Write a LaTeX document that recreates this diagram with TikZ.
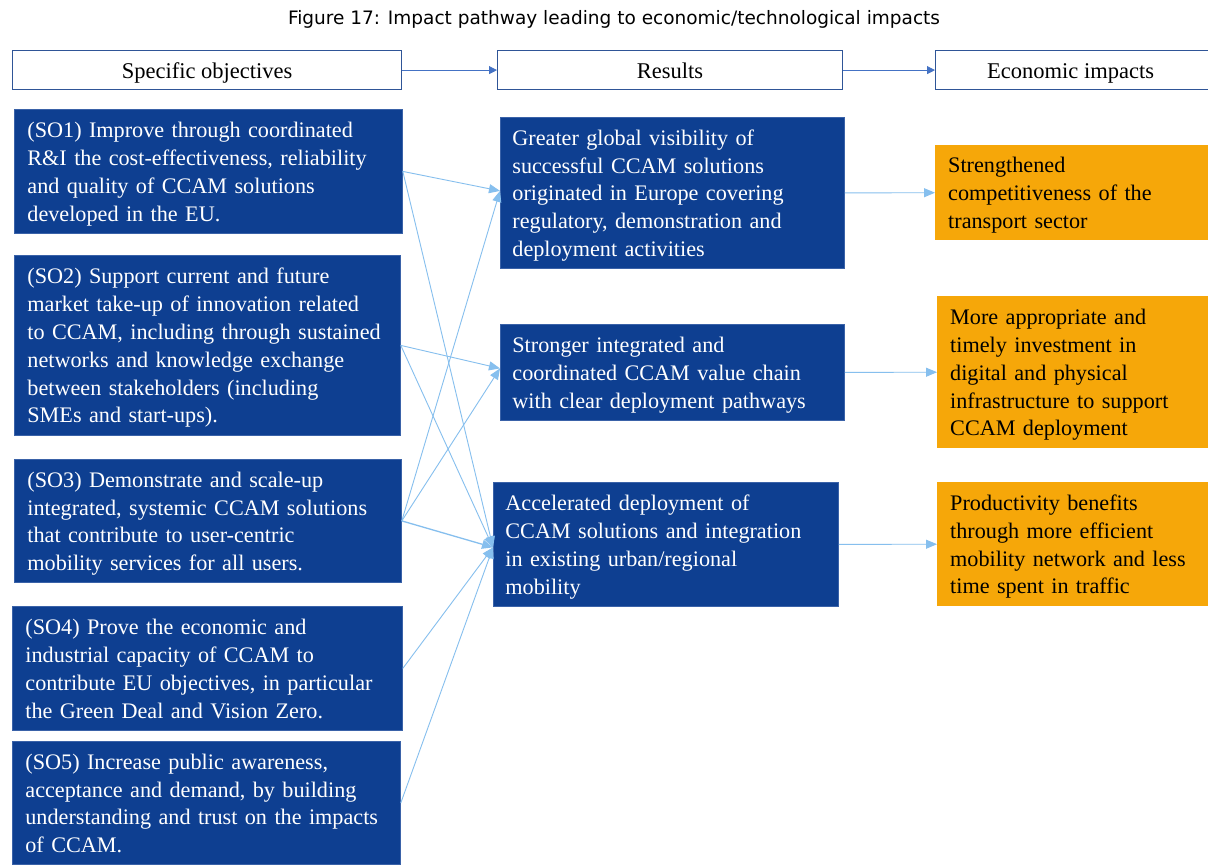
\documentclass[tikz,border=0pt]{standalone}
\usepackage{fontspec}
\setmainfont{Liberation Serif}
\newfontfamily\titlefont{DejaVu Sans}
\usetikzlibrary{arrows.meta}
\definecolor{boxblue}{HTML}{0E3F91}
\definecolor{boxedge}{HTML}{3A62A8}
\definecolor{impactorange}{HTML}{F6A709}
\definecolor{headedge}{HTML}{2F5597}
\definecolor{headarrow}{HTML}{4472C4}
\definecolor{linkblue}{HTML}{86BFEE}
\tikzset{
  bodytext/.style={font=\fontsize{22.2}{27.8}\selectfont,
    execute at begin node={\rule{0pt}{24pt}},
    execute at end node={\rule[-8pt]{0pt}{0pt}}},
  headbox/.style={draw=headedge, line width=1.2pt, fill=white, anchor=north west,
    minimum height=39pt, inner sep=0pt, text height=17pt, text depth=1pt,
    font=\fontsize{22.5}{26}\selectfont},
  objbox/.style={bodytext, fill=boxblue, draw=boxedge, line width=0.8pt, text=white,
    anchor=north west, inner xsep=13pt, inner ysep=0pt, align=left},
  resbox/.style={objbox},
  impbox/.style={bodytext, fill=impactorange, draw=none, text=black,
    anchor=north west, inner xsep=13pt, inner ysep=0pt, align=left},
  headlink/.style={draw=headarrow, line width=0.9pt, -{Triangle[length=8pt,width=8pt]}},
  link/.style={draw=linkblue, line width=0.9pt, -{Triangle[length=11pt,width=9pt]}}
}
\begin{document}
\begin{tikzpicture}[x=1pt,y=-1pt]
\useasboundingbox[fill=white] (0,0) rectangle (1208,865);

\node[font=\titlefont\fontsize{18.5}{21}\selectfont] (title) at (614,19)
  {Figure 17: Impact pathway leading to economic/technological impacts};

% column headers
\node[headbox, minimum width=389pt] (hso) at (12,50) {Specific objectives};
\node[headbox, minimum width=345pt] (hres) at (497,50) {Results};
\node[headbox, minimum width=276pt] (himp) at (935,50) {\hspace*{-3pt}Economic impacts\hspace*{3pt}};
\draw[headlink] (hso) -- (hres);
\draw[headlink] (hres) -- (himp);

% specific objectives
\node[objbox, text width=362pt, minimum height=124pt] (so1) at (14,109)
  {(SO1) Improve through coordinated\\
   R\&I the cost-effectiveness, reliability\\
   and quality of CCAM solutions\\
   developed in the EU.};
\node[objbox, text width=360pt, minimum height=180pt] (so2) at (14,255)
  {(SO2) Support current and future\\
   market take-up of innovation related\\
   to CCAM, including through sustained\\
   networks and knowledge exchange\\
   between stakeholders (including\\
   SMEs and start-ups).};
\node[objbox, text width=361pt, minimum height=123pt] (so3) at (14,459)
  {(SO3) Demonstrate and scale-up\\
   integrated, systemic CCAM solutions\\
   that contribute to user-centric\\
   mobility services for all users.};
\node[objbox, text width=364pt, minimum height=124pt] (so4) at (12,606)
  {(SO4) Prove the economic and\\
   industrial capacity of CCAM to\\
   contribute EU objectives, in particular\\
   the Green Deal and Vision Zero.};
\node[objbox, text width=362pt, minimum height=123pt] (so5) at (12,741)
  {(SO5) Increase public awareness,\\
   acceptance and demand, by building\\
   understanding and trust on the impacts\\
   of CCAM.};

% results
\node[resbox, text width=320pt, minimum height=151pt, inner xsep=12pt] (r1) at (500,117)
  {Greater global visibility of\\
   successful CCAM solutions\\
   originated in Europe covering\\
   regulatory, demonstration and\\
   deployment activities};
\node[resbox, text width=320pt, minimum height=96pt, inner xsep=12pt] (r2) at (500,324)
  {Stronger integrated and\\
   coordinated CCAM value chain\\
   with clear deployment pathways};
\node[resbox, text width=321pt, minimum height=124pt, inner xsep=12pt] (r3) at (493,482)
  {Accelerated deployment of\\
   CCAM solutions and integration\\
   in existing urban/regional\\
   mobility};

% economic impacts
\node[impbox, text width=250pt, minimum height=95pt] (i1) at (935,145)
  {Strengthened\\
   competitiveness of the\\
   transport sector};
\node[impbox, text width=248pt, minimum height=152pt] (i2) at (937,296)
  {More appropriate and\\
   timely investment in\\
   digital and physical\\
   infrastructure to support\\
   CCAM deployment};
\node[impbox, text width=248pt, minimum height=124pt] (i3) at (937,482)
  {Productivity benefits\\
   through more efficient\\
   mobility network and less\\
   time spent in traffic};

% objectives feeding results
\coordinate (r1in) at ([yshift=2pt]r1.west);
\coordinate (r2in) at ([yshift=4pt]r2.west);
\coordinate (r3in) at ([yshift=-3pt]r3.west);
\draw[link] (so1.east) -- (r1in);
\draw[link] (so1.east) -- (r3in);
\draw[link] (so2.east) -- (r2in);
\draw[link] (so2.east) -- (r3in);
\draw[link] (so3.east) -- (r1in);
\draw[link] (so3.east) -- (r2in);
\draw[link, line width=1.3pt] (so3.east) -- (r3in);
\draw[link] (so4.east) -- (r3in);
\draw[link] (so5.east) -- (r3in);

% results feeding impacts
\draw[link] (r1.east) -- (i1.west);
\draw[link] (r2.east) -- (i2.west);
\draw[link] (r3.east) -- (i3.west);
\end{tikzpicture}
\end{document}
